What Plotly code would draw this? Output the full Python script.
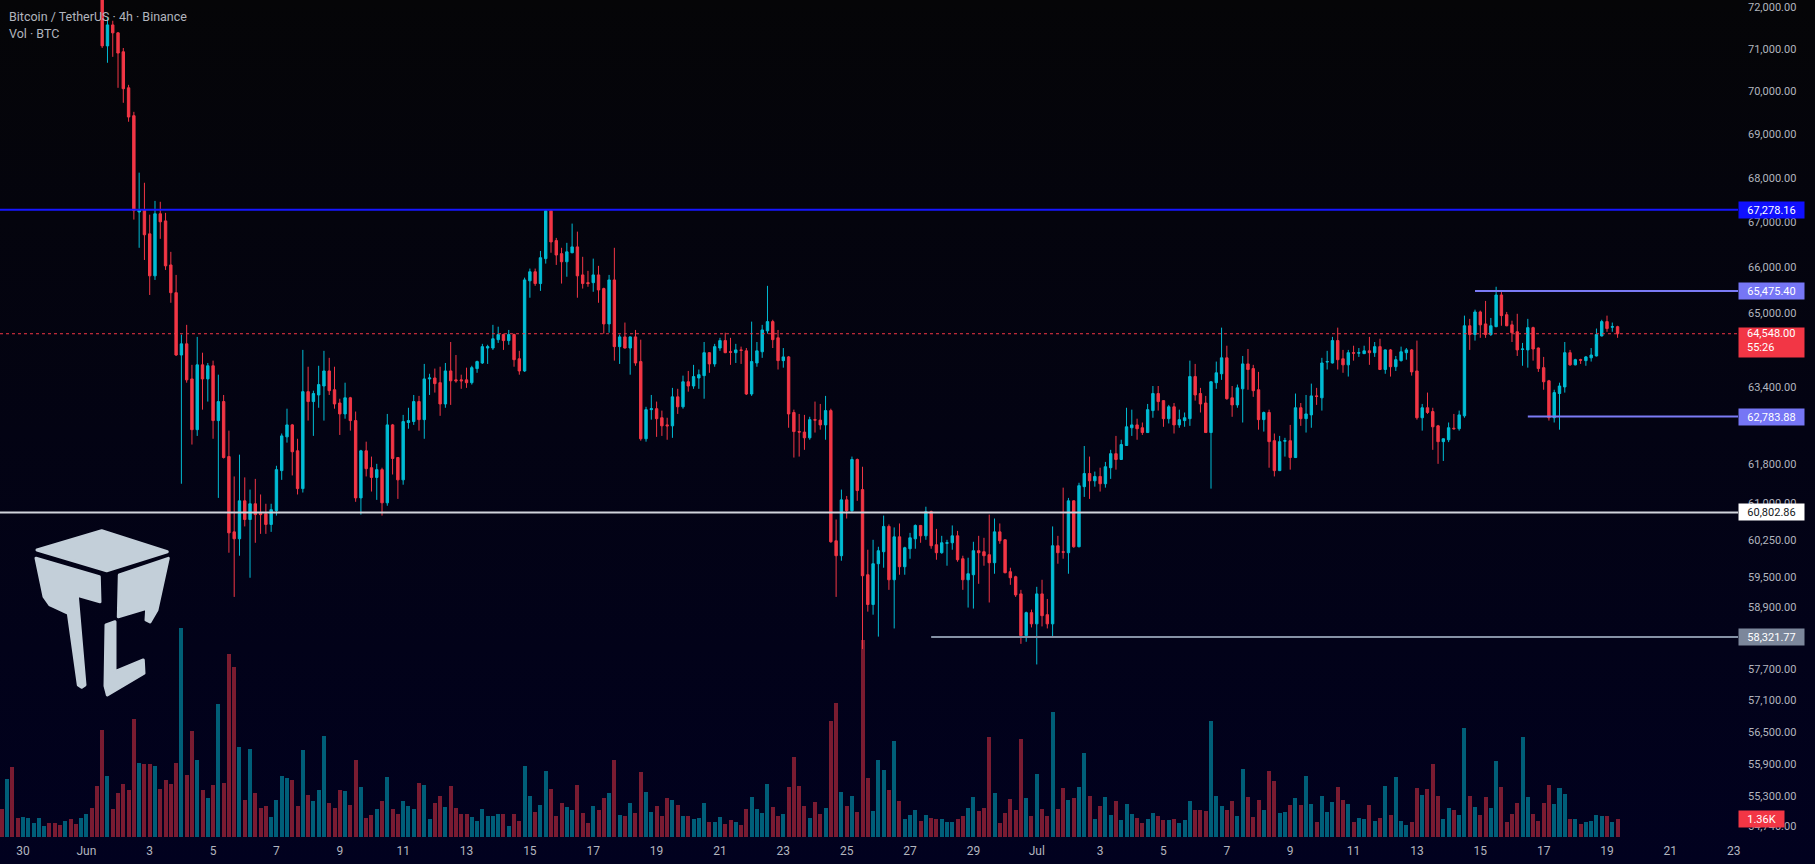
import math
import base64
import pandas as pd
import plotly.graph_objects as go

# BTC/USDT 4h candles (Binance), first bar 2024-05-29 08:00
first_bar = "2024-05-29 08:00"

open_ = [
    73400, 73100, 73700, 73200, 72900, 73000, 73150, 73300, 73450, 73600,
    73500, 73350, 73150, 73300, 73100, 72850, 73000, 73250, 72900, 72420,
    71070, 71570, 71380, 70930, 70080, 69430, 67230, 67280, 66740, 65810,
    67190, 67030, 66050, 65440, 64090, 64330, 63580, 62510, 63880, 63580,
    63860, 62700, 63100, 61950, 60410, 60270, 61040, 60660, 60980, 60780,
    60780, 60560, 60840, 61660, 62360, 62610, 62070, 61290, 63310, 63100,
    63240, 63430, 63750, 63350, 63070, 62840, 63180, 62700, 61100, 62070,
    61720, 61520, 61680, 61000, 62610, 61930, 61470, 62660, 62680, 63100,
    62720, 63580, 63600, 63500, 63050, 63750, 63560, 63560, 63560, 63500,
    63800, 63920, 64240, 64240, 64420, 64530, 64400, 64530, 64010, 63750,
    65700, 65900, 65640, 66190, 67260, 66590, 66300, 66120, 66320, 66450,
    65830, 65660, 65660, 65830, 65530, 64760, 65720, 64270, 64480, 64240,
    64480, 63950, 62320, 62930, 62950, 62760, 62610, 62590, 63200, 62990,
    63520, 63430, 63600, 63650, 64140, 63900, 64240, 64400, 64160, 64140,
    64200, 64180, 63260, 63920, 64160, 64610, 64810, 64460, 63970, 64050,
    62870, 62470, 62460, 62340, 62720, 62710, 62610, 62910, 60230, 59930,
    61060, 60840, 61890, 61270, 59550, 58960, 59770, 60010, 60520, 59450,
    60310, 59710, 60070, 60270, 60540, 60330, 60820, 60150, 59990, 60180,
    60190, 60330, 59870, 59450, 59550, 60030, 60010, 59950, 59790, 60410,
    60250, 59610, 59510, 59170, 58350, 58800, 58580, 59170, 58760, 58580,
    60130, 60010, 59990, 61040, 60110, 61330, 61600, 61450, 61540, 61390,
    61720, 62010, 61890, 62180, 62550, 62610, 62550, 62450, 62910, 63270,
    63120, 62740, 62990, 62610, 62700, 62740, 63630, 63270, 63070, 62450,
    63500, 63690, 64030, 63180, 63030, 63370, 63900, 63800, 63350, 62720,
    62870, 62280, 61660, 62270, 62280, 61930, 62970, 62740, 62820, 63220,
    63180, 63940, 63920, 64400, 64010, 63880, 64140, 64130, 64120, 64180,
    64140, 64270, 63780, 64200, 63840, 63970, 64140, 64200, 63750, 62760,
    62970, 62890, 62590, 62260, 62300, 62540, 62530, 62800, 64720, 64530,
    65020, 64760, 64530, 64700, 65390, 64960, 64740, 64590, 64210, 64200,
    64680, 64240, 63820, 63540, 62760, 63270, 63410, 64140, 63880, 63990,
    63970, 64030, 64070, 64500, 64810, 64690, 64700,
]

high = [
    73500, 73800, 73800, 73300, 73100, 73250, 73400, 73550, 73700, 73700,
    73600, 73450, 73400, 73400, 73200, 73100, 73350, 73350, 73000, 72650,
    71760, 71670, 71400, 71020, 70150, 69520, 68120, 67890, 67170, 67480,
    67460, 67210, 66340, 65830, 64530, 64740, 63880, 64480, 64140, 63920,
    63970, 63670, 63240, 62490, 61540, 61990, 61520, 61270, 61490, 61170,
    60980, 60980, 61760, 62430, 62950, 62630, 62320, 64200, 63840, 63330,
    63860, 64180, 64030, 63840, 63160, 63500, 63200, 62890, 62090, 62260,
    61950, 61800, 61720, 62840, 62630, 61940, 62820, 62970, 63240, 63220,
    63900, 63690, 63800, 63840, 63920, 64370, 64090, 63670, 63820, 63860,
    63970, 64330, 64310, 64740, 64700, 64550, 64630, 64550, 64180, 65770,
    65970, 65970, 66360, 67278.16, 67278.16, 66650, 66430, 66540, 66970, 66790,
    66230, 65920, 66190, 66030, 65550, 65830, 66430, 64530, 64790, 64490,
    64630, 64420, 62990, 63240, 63100, 62910, 62760, 63390, 63370, 63650,
    63750, 63880, 63780, 64370, 64150, 64330, 64460, 64570, 64460, 64330,
    64270, 64240, 64810, 64370, 64740, 65590, 64850, 64630, 64240, 64070,
    62930, 62840, 62820, 62780, 63100, 63050, 63220, 62950, 60660, 61270,
    61140, 61950, 61910, 61740, 60050, 60250, 60110, 60740, 60560, 60500,
    60580, 60110, 60390, 60560, 60550, 60920, 60840, 60470, 60330, 60250,
    60540, 60430, 59930, 59890, 60210, 60330, 60290, 60760, 60680, 60580,
    60260, 59690, 59530, 59250, 58820, 58860, 59310, 59450, 59070, 60520,
    60330, 61310, 61100, 61050, 61410, 62170, 61950, 61640, 61720, 61840,
    62090, 62380, 62300, 62970, 62930, 62740, 62660, 63050, 63430, 63430,
    63130, 63030, 63070, 62930, 62870, 63970, 63900, 63390, 63220, 63530,
    63950, 64680, 64290, 63430, 63460, 64070, 64220, 63880, 63730, 62890,
    62930, 62430, 62380, 62340, 62610, 63270, 63070, 63240, 63480, 63390,
    64030, 64180, 64480, 64680, 64200, 64200, 64290, 64240, 64290, 64480,
    64370, 64440, 64210, 64220, 64070, 64270, 64240, 64220, 64400, 63050,
    63290, 62970, 62610, 62330, 62660, 62840, 62910, 64940, 64870, 65070,
    65050, 65260, 64890, 65570, 65460, 65020, 64830, 64980, 64350, 64870,
    64700, 64250, 64050, 63560, 63350, 63500, 64370, 64200, 64010, 64010,
    64070, 64240, 64660, 64850, 64940, 64790, 64720,
]

low = [
    73000, 73000, 73100, 72800, 72800, 72900, 73050, 73200, 73350, 73400,
    73250, 73050, 73050, 73000, 72750, 72750, 72900, 72800, 72350, 71020,
    70670, 70810, 70080, 69730, 69290, 67060, 66430, 66160, 65390, 65720,
    66630, 65940, 65220, 64070, 61390, 63500, 62200, 62380, 62930, 63100,
    62320, 61100, 61910, 59990, 59110, 59930, 60520, 59490, 60190, 60370,
    60370, 60410, 60740, 61470, 62240, 61560, 61170, 61210, 62700, 62380,
    62970, 62700, 63240, 62950, 62400, 62740, 62490, 61020, 60760, 61540,
    61230, 61060, 60740, 60940, 61580, 61080, 61370, 62530, 62610, 62490,
    62320, 63240, 63290, 62800, 62970, 63030, 63500, 63370, 63390, 63460,
    63710, 63900, 63900, 64200, 64350, 64200, 64310, 63840, 63670, 63730,
    65330, 65590, 65480, 66080, 66320, 66050, 65640, 65790, 66310, 65330,
    65530, 65570, 65460, 65220, 64550, 64570, 63970, 63900, 64230, 63670,
    63860, 62280, 62260, 62720, 62360, 62380, 62300, 62340, 62840, 62950,
    63310, 63370, 63370, 63160, 63710, 63840, 64180, 64130, 63880, 63920,
    63900, 63240, 63220, 63840, 64030, 64550, 64240, 63780, 63820, 62550,
    61930, 61950, 62090, 62300, 62450, 62510, 62300, 60190, 59110, 59830,
    60680, 60800, 61040, 58090, 58820, 58760, 58330, 59690, 59250, 58490,
    59550, 59550, 59870, 60070, 60190, 60250, 60070, 59850, 59970, 59730,
    60050, 59810, 59250, 58900, 58880, 59370, 59730, 59000, 59570, 60170,
    59580, 59350, 59110, 58190, 58230, 58510, 57790, 58530, 58490, 58310,
    59770, 59870, 59570, 60090, 60100, 61120, 61080, 61330, 61230, 61310,
    61490, 61680, 61880, 62170, 62380, 62300, 62400, 62440, 62760, 62910,
    62570, 62640, 62430, 62550, 62570, 62590, 63120, 62870, 62440, 61290,
    63370, 63560, 63140, 62780, 62970, 62660, 63350, 63200, 62510, 62470,
    61720, 61540, 61650, 61950, 61680, 61920, 62590, 62450, 62550, 63030,
    62910, 63780, 63910, 63780, 63710, 63630, 63970, 64050, 64110, 63880,
    64050, 63770, 63690, 63630, 63750, 63950, 63990, 63650, 62720, 62490,
    62840, 62090, 61800, 61860, 62250, 62510, 62490, 62760, 64200, 64400,
    64460, 64460, 64500, 64690, 64720, 64710, 64370, 64070, 63860, 63820,
    63970, 63730, 63350, 62700, 62660, 62510, 63290, 63860, 63870, 63900,
    63860, 63950, 64060, 64490, 64590, 64590, 64460,
]

close = [
    73100, 73700, 73200, 72900, 73000, 73150, 73300, 73450, 73600, 73500,
    73350, 73150, 73300, 73100, 72850, 73000, 73250, 72900, 72420, 71070,
    71570, 71380, 70900, 70060, 69400, 67260, 67280, 66720, 65810, 67190,
    67010, 66030, 65440, 64090, 64330, 63560, 62510, 63880, 63580, 63860,
    62700, 63100, 61930, 60390, 60270, 61040, 60660, 60980, 60760, 60760,
    60560, 60860, 61680, 62380, 62610, 62050, 61290, 63310, 63100, 63270,
    63460, 63750, 63330, 63050, 62840, 63180, 62700, 61100, 62070, 61700,
    61520, 61680, 61000, 62610, 61910, 61470, 62680, 62700, 63100, 62720,
    63580, 63600, 63480, 63050, 63750, 63540, 63540, 63540, 63500, 63820,
    63950, 64270, 64270, 64440, 64530, 64400, 64530, 63990, 63750, 65720,
    65900, 65640, 66210, 67260, 66560, 66270, 66120, 66340, 66450, 65810,
    65640, 65640, 65830, 65500, 64760, 65720, 64270, 64480, 64240, 64480,
    63920, 62320, 62930, 62950, 62740, 62590, 62590, 63200, 62990, 63520,
    63430, 63630, 63670, 64140, 63900, 64270, 64400, 64140, 64150, 64200,
    64190, 63260, 63950, 64180, 64630, 64810, 64420, 63970, 64050, 62840,
    62470, 62460, 62340, 62720, 62710, 62610, 62910, 60210, 59930, 61060,
    60840, 61890, 61250, 59530, 58960, 59770, 60030, 60520, 59450, 60310,
    59710, 60090, 60290, 60540, 60330, 60820, 60130, 59990, 60190, 60190,
    60330, 59850, 59450, 59570, 60030, 59990, 59930, 59790, 60410, 60230,
    59590, 59490, 59150, 58350, 58800, 58580, 59170, 58740, 58580, 60130,
    59990, 60000, 61040, 60110, 61350, 61600, 61450, 61540, 61390, 61740,
    62010, 61890, 62200, 62570, 62610, 62530, 62450, 62930, 63270, 63100,
    62740, 62990, 62610, 62720, 62760, 63630, 63240, 63050, 62450, 63520,
    63710, 64030, 63160, 63030, 63390, 63900, 63780, 63330, 62720, 62870,
    62260, 61660, 62260, 62280, 61930, 62970, 62740, 62840, 63220, 63210,
    63920, 63950, 64400, 63990, 63880, 64140, 64130, 64140, 64180, 64140,
    64270, 63780, 64200, 63840, 63990, 64160, 64200, 63730, 62760, 62970,
    62870, 62570, 62260, 62320, 62550, 62530, 62820, 64720, 64530, 65020,
    64740, 64530, 64720, 65390, 64940, 64720, 64570, 64200, 64220, 64680,
    64220, 63800, 63520, 62760, 63290, 63430, 64140, 63880, 63990, 63980,
    64050, 64090, 64530, 64810, 64660, 64700, 64548,
]

# volume in BTC
volume = [
    2150, 4450, 5380, 1460, 1540, 1460, 1080, 1460, 840, 1080,
    1080, 920, 1230, 1380, 1000, 1460, 1770, 2230, 3920, 8220,
    4680, 2150, 3380, 4070, 3610, 9060, 5680, 5610, 5610, 5450,
    3690, 4380, 4070, 5680, 16050, 4760, 8140, 5910, 3610, 3000,
    3990, 10210, 4150, 14050, 13060, 6910, 2840, 6760, 3380, 2230,
    2380, 1540, 2840, 4680, 4530, 4380, 2380, 6680, 3230, 2760,
    3610, 7760, 2610, 2230, 3610, 3530, 2460, 5910, 3840, 1460,
    1690, 2150, 2760, 4610, 2150, 1740, 2740, 2360, 2130, 4120,
    3970, 1360, 2590, 3130, 2280, 3890, 2200, 1740, 1740, 1510,
    1210, 2130, 1590, 1590, 1740, 1740, 820, 1740, 1210, 5430,
    3130, 1900, 2430, 5050, 3660, 1590, 2590, 2280, 2050, 3970,
    1820, 1050, 2360, 2050, 2970, 3360, 5890, 1670, 1590, 2590,
    1820, 4970, 3430, 1900, 2360, 1590, 2970, 2820, 2430, 1590,
    1590, 1360, 1440, 2590, 1130, 1130, 1510, 980, 1280, 1130,
    900, 2130, 3050, 2130, 1820, 4050, 2280, 1590, 1740, 3820,
    6120, 3890, 2360, 1440, 2660, 1740, 2200, 8890, 10270, 3430,
    2360, 3130, 1900, 15110, 4510, 1970, 5890, 5120, 3590, 7350,
    2740, 1360, 1670, 2050, 1210, 1670, 1440, 1360, 1360, 1130,
    1130, 1360, 1590, 2200, 3050, 1970, 2200, 7660, 3360, 1050,
    1820, 2900, 2050, 7500, 2970, 1590, 4820, 2130, 1590, 9580,
    2130, 3740, 2820, 2970, 3820, 6430, 3130, 1360, 2360, 3050,
    1670, 2740, 1280, 2510, 1740, 1440, 1050, 1360, 1820, 1590,
    1280, 1280, 1360, 1050, 1280, 2740, 2050, 2050, 1970, 8890,
    3130, 2360, 2050, 2740, 1590, 5200, 3050, 1510, 2820, 2050,
    5050, 4280, 1820, 1900, 2430, 2970, 2430, 4660, 2510, 1130,
    3130, 1900, 2660, 3820, 2820, 2510, 1130, 1440, 1360, 2430,
    1210, 1440, 3890, 1670, 4580, 1210, 900, 1130, 3740, 3200,
    3660, 5580, 3130, 1360, 2200, 2050, 1670, 8350, 3130, 2280,
    1670, 3050, 2200, 5810, 3820, 1130, 1740, 2590, 7660, 3050,
    1740, 1210, 2590, 3970, 2510, 3740, 3280, 1360, 1360, 980,
    1130, 1210, 1670, 1590, 1590, 1130, 1360,
]

times = pd.date_range(first_bar, periods=len(close), freq="4h")

# price scale labels (the ones under the level tags are hidden in the original)
price_ticks = [72000, 71000, 70000, 69000, 68000, 67000, 66000, 65000,
               63400, 61800, 61000, 60250, 59500, 58900, 57700,
               57100, 56500, 55900, 55300, 54740]

date_ticks = pd.date_range("2024-05-30", "2024-07-23", freq="2D")
date_labels = [d.strftime("%b") if d.day == 1 else str(d.day) for d in date_ticks]

# drawn horizontal levels
levels = [67278.16, 65475.40, 62783.88, 60802.86, 58321.77]
level_start = [None, "2024-07-14 20:00", "2024-07-16 12:00", None, "2024-06-27 16:00"]
level_color = ["#1616ff", "#7b7bf5", "#7b7bf5", "#d1d4dc", "#8692a6"]
level_label_bg = ["#1010ff", "#7676f5", "#7676f5", "#ffffff", "#7c879b"]
level_label_fg = ["#ffffff", "#ffffff", "#ffffff", "#131722", "#ffffff"]

last_price = 64548.00
countdown = "55:26"
last_volume_label = "1.36K"

UP = "#00bcd4"
DOWN = "#f23645"
TXT = "#b2b5be"
FONT = "Roboto"

x_range = ["2024-05-29 06:35", "2024-07-23 03:14"]
price_range = [54550, 72169]
vol_max = 64300

W, H = 1815, 864
ML, MR, MT, MB = 0, 77, 0, 27
plot_w, plot_h = W - ML - MR, H - MT - MB

# background gradient + logo as one svg
logo = (
    '<path d="M37,550 L101.7,530.7 L167.3,551.7 L106.7,570.7 Z"/>'
    '<path d="M36,558.3 L99.3,576.7 L100,601.7 L77.3,595.3 L85,685 L81.7,687.3 '
    'L78.3,685 L68.3,613.3 L50,605 L44,596.7 Z"/>'
    '<path d="M119.3,575 L168.3,558.3 L157,610 L150,622 L146,620 L146.7,608.3 L118.3,616.7 Z"/>'
    '<path d="M106,625 L115,621.7 L115,671.7 L143.3,660 L144,673.3 L107.3,695 L105,686 Z"/>'
)
svg = (
    f'<svg xmlns="http://www.w3.org/2000/svg" width="{W}" height="{H}" '
    f'viewBox="0 0 {W} {H}" preserveAspectRatio="none">'
    '<defs><linearGradient id="g" x1="0" y1="0" x2="0" y2="1">'
    '<stop offset="0" stop-color="#050507"/><stop offset="1" stop-color="#01011f"/>'
    '</linearGradient></defs>'
    f'<rect width="{W}" height="{H}" fill="url(#g)"/>'
    '<g fill="#c3cfd9" stroke="#c3cfd9" stroke-width="3" stroke-linejoin="round">'
    + logo + '</g></svg>'
)
bg_src = "data:image/svg+xml;base64," + base64.b64encode(svg.encode()).decode()

vol_colors = ["rgba(0,188,212,0.5)" if c >= o else "rgba(242,54,69,0.5)"
              for o, c in zip(open_, close)]

fig = go.Figure()

fig.add_trace(go.Bar(
    x=times, y=volume, marker=dict(color=vol_colors, line=dict(width=0)),
    width=4 * 3600 * 1000 * 0.76, yaxis="y", hoverinfo="skip",
))

fig.add_trace(go.Candlestick(
    x=times, open=open_, high=high, low=low, close=close, yaxis="y2",
    increasing=dict(line=dict(color=UP, width=1), fillcolor=UP),
    decreasing=dict(line=dict(color=DOWN, width=1), fillcolor=DOWN),
    whiskerwidth=0, hoverinfo="skip",
))

shapes = []
for lvl, start, col in zip(levels, level_start, level_color):
    if start is None:
        shapes.append(dict(type="line", xref="paper", x0=0, x1=1, yref="y2",
                           y0=lvl, y1=lvl, line=dict(color=col, width=2)))
    else:
        shapes.append(dict(type="line", xref="x", x0=start, x1=x_range[1], yref="y2",
                           y0=lvl, y1=lvl, line=dict(color=col, width=2)))
shapes.append(dict(type="line", xref="paper", x0=0, x1=1, yref="y2",
                   y0=last_price, y1=last_price,
                   line=dict(color=DOWN, width=1, dash="dot")))

annotations = [
    dict(text="Bitcoin / TetherUS · 4h · Binance", xref="paper", yref="paper",
         x=0, y=1, xanchor="left", yanchor="top", xshift=7, yshift=-7,
         showarrow=False, font=dict(family=FONT, size=12.5, color=TXT)),
    dict(text="Vol · BTC", xref="paper", yref="paper",
         x=0, y=1, xanchor="left", yanchor="top", xshift=7, yshift=-24,
         showarrow=False, font=dict(family=FONT, size=12.5, color=TXT)),
]
for lvl, bg, fg in zip(levels, level_label_bg, level_label_fg):
    annotations.append(dict(
        text=f"{lvl:,.2f}", xref="paper", yref="y2", x=1, y=math.log10(lvl),
        xanchor="left", yanchor="middle", showarrow=False, width=61, height=12,
        borderpad=2, bgcolor=bg, align="center",
        font=dict(family=FONT, size=11, color=fg)))

# current price box
annotations.append(dict(
    text=" ", xref="paper", yref="y2", x=1, y=math.log10(last_price),
    xanchor="left", yanchor="top", yshift=7, showarrow=False, width=61, height=25,
    borderpad=2, bgcolor=DOWN, font=dict(family=FONT, size=11, color="#ffffff")))
annotations.append(dict(
    text=f"{last_price:,.2f}", xref="paper", yref="y2", x=1, y=math.log10(last_price),
    xanchor="left", yanchor="middle", xshift=7, showarrow=False,
    font=dict(family=FONT, size=11, color="#ffffff")))
annotations.append(dict(
    text=countdown, xref="paper", yref="y2", x=1, y=math.log10(last_price),
    xanchor="left", yanchor="middle", xshift=7, yshift=-14, showarrow=False,
    font=dict(family=FONT, size=11, color="#ffffff")))
# last volume box
annotations.append(dict(
    text=last_volume_label, xref="paper", yref="y", x=1, y=volume[-1],
    xanchor="left", yanchor="middle", showarrow=False, width=41, height=12,
    borderpad=2, bgcolor=DOWN, align="center",
    font=dict(family=FONT, size=11, color="#ffffff")))

fig.update_layout(
    width=W, height=H,
    margin=dict(l=ML, r=MR, t=MT, b=MB),
    paper_bgcolor="#01011f",
    plot_bgcolor="rgba(0,0,0,0)",
    showlegend=False,
    bargap=0,
    boxgap=0.35,
    font=dict(family=FONT, color=TXT),
    images=[dict(source=bg_src, xref="paper", yref="paper", x=0, y=1,
                 sizex=W / plot_w, sizey=H / plot_h, xanchor="left", yanchor="top",
                 sizing="stretch", layer="below")],
    xaxis=dict(
        type="date", range=x_range, rangeslider=dict(visible=False),
        showgrid=False, zeroline=False, showline=False,
        tickmode="array", tickvals=list(date_ticks), ticktext=date_labels,
        ticks="", ticklabelstandoff=5,
        tickfont=dict(family=FONT, size=12, color=TXT),
    ),
    yaxis=dict(
        range=[0, vol_max], showgrid=False, zeroline=False,
        showticklabels=False, showline=False, fixedrange=True,
    ),
    yaxis2=dict(
        type="log", overlaying="y", side="right",
        range=[math.log10(price_range[0]), math.log10(price_range[1])],
        showgrid=False, zeroline=False, showline=False,
        tickmode="array", tickvals=price_ticks,
        ticktext=[f"{v:,.2f}" for v in price_ticks],
        ticks="", ticklabelstandoff=9,
        tickfont=dict(family=FONT, size=11, color=TXT),
    ),
    shapes=shapes,
    annotations=annotations,
)

# page margin off so the chart sits at the window origin
fig.write_html("out.html", config=dict(displayModeBar=False),
               post_script="document.body.style.margin='0';document.body.style.overflow='hidden';")
